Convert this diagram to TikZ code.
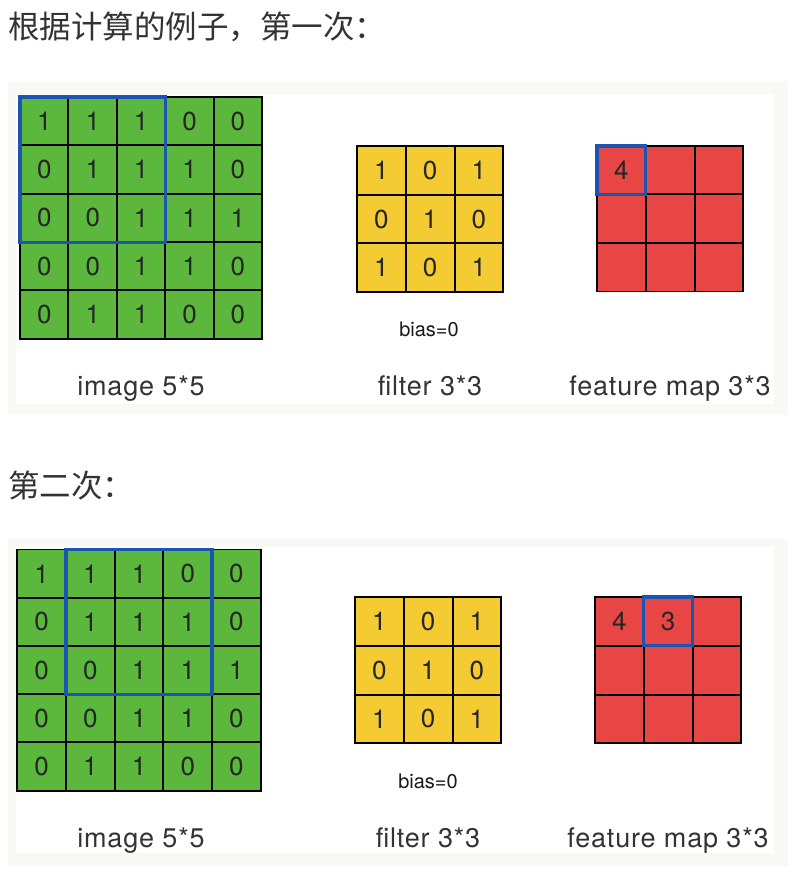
\documentclass[tikz,border=0pt]{standalone}
\usepackage{fontspec}
\setmainfont{TeX Gyre Heros}
\newfontfamily\cjk{Noto Sans CJK SC}
\newfontfamily\lblfont[LetterSpace=3]{TeX Gyre Heros}
\definecolor{panelgrey}{HTML}{F8F8F4}
\definecolor{cellgreen}{HTML}{5CB83C}
\definecolor{cellyellow}{HTML}{F4CB33}
\definecolor{cellred}{HTML}{E84545}
\definecolor{boxblue}{HTML}{1A55B2}
\definecolor{txtgrey}{HTML}{333333}
\tikzset{
  cell/.style={draw=black, line width=1.9pt, minimum size=48.7pt, inner sep=0pt, outer sep=0pt,
    font=\fontsize{26}{30}\selectfont, text=black!85},
  imgcell/.style={cell, fill=cellgreen},
  filtcell/.style={cell, fill=cellyellow},
  mapcell/.style={cell, fill=cellred},
  mapnum/.style={font=\fontsize{26}{30}\selectfont, text=black!85},
  bluebox/.style={draw=boxblue, line width=3.3pt},
  lbl/.style={anchor=base, inner sep=0pt, text=txtgrey, font=\lblfont\fontsize{27}{32}\selectfont},
  biaslbl/.style={anchor=base, inner sep=0pt, text=black!90, font=\fontsize{20}{24}\selectfont},
  title/.style={anchor=base west, inner sep=0pt, text=txtgrey, font=\cjk\fontsize{31.5}{36}\selectfont},
}
\begin{document}
\begin{tikzpicture}[x=1pt, y=-1pt]
\useasboundingbox (0,0) rectangle (794,880);
\fill[white] (0,0) rectangle (794,880);
% titles
\node[title] (t1) at (8,39) {根据计算的例子，第一次：};
\node[title] (t2) at (8,497) {第二次：};
% panels
\fill[panelgrey] (8,81) rectangle (788,415);
\fill[white] (16,94) rectangle (774,404);
\fill[panelgrey] (8,539) rectangle (788,866);
\fill[white] (16,547) rectangle (774,853);
% ---------- first panel ----------
\foreach \row [count=\r from 0] in {{1,1,1,0,0},{0,1,1,1,0},{0,0,1,1,1},{0,0,1,1,0},{0,1,1,0,0}}{
  \foreach \v [count=\c from 0] in \row {
    \node[imgcell] (ai-\r-\c) at (20+24.35+48.4*\c, 97+24.35+48.3*\r) {\v};
  }
}
\foreach \row [count=\r from 0] in {{1,0,1},{0,1,0},{1,0,1}}{
  \foreach \v [count=\c from 0] in \row {
    \node[filtcell] (af-\r-\c) at (357+24.35+48.8*\c, 146+24.35+48.7*\r) {\v};
  }
}
\foreach \r in {0,1,2}{
  \foreach \c in {0,1,2}{
    \node[mapcell] (am-\r-\c) at (597+24.35+48.8*\c, 146+24.35+48.4*\r) {};
  }
}
\node[mapnum] (av) at (am-0-0) {4};
\draw[bluebox] (ai-0-0.north west) rectangle (ai-2-2.south east);
\draw[bluebox] (am-0-0.north west) rectangle (am-0-0.south east);
\node[biaslbl] (ab) at (429,336) {bias=0};
\node[lbl] (al1) at (141,395) {image 5*5};
\node[lbl] (al2) at (430,395) {filter 3*3};
\node[lbl] (al3) at (670,395) {feature map 3*3};
% ---------- second panel ----------
\foreach \row [count=\r from 0] in {{1,1,1,0,0},{0,1,1,1,0},{0,0,1,1,1},{0,0,1,1,0},{0,1,1,0,0}}{
  \foreach \v [count=\c from 0] in \row {
    \node[imgcell] (bi-\r-\c) at (17.3+24.35+48.7*\c, 549.5+24.35+48.1*\r) {\v};
  }
}
\foreach \row [count=\r from 0] in {{1,0,1},{0,1,0},{1,0,1}}{
  \foreach \v [count=\c from 0] in \row {
    \node[filtcell] (bf-\r-\c) at (355+24.35+48.8*\c, 597+24.35+48.8*\r) {\v};
  }
}
\foreach \r in {0,1,2}{
  \foreach \c in {0,1,2}{
    \node[mapcell] (bm-\r-\c) at (595+24.35+48.8*\c, 597+24.35+48.8*\r) {};
  }
}
\node[mapnum] (bv1) at (bm-0-0) {4};
\node[mapnum] (bv2) at (bm-0-1) {3};
\draw[bluebox] (bi-0-1.north west) rectangle (bi-2-3.south east);
\draw[bluebox] (bm-0-1.north west) rectangle (bm-0-1.south east);
\node[biaslbl] (bb) at (428,788) {bias=0};
\node[lbl] (bl1) at (141,847) {image 5*5};
\node[lbl] (bl2) at (428,847) {filter 3*3};
\node[lbl] (bl3) at (668,847) {feature map 3*3};
\end{tikzpicture}
\end{document}
